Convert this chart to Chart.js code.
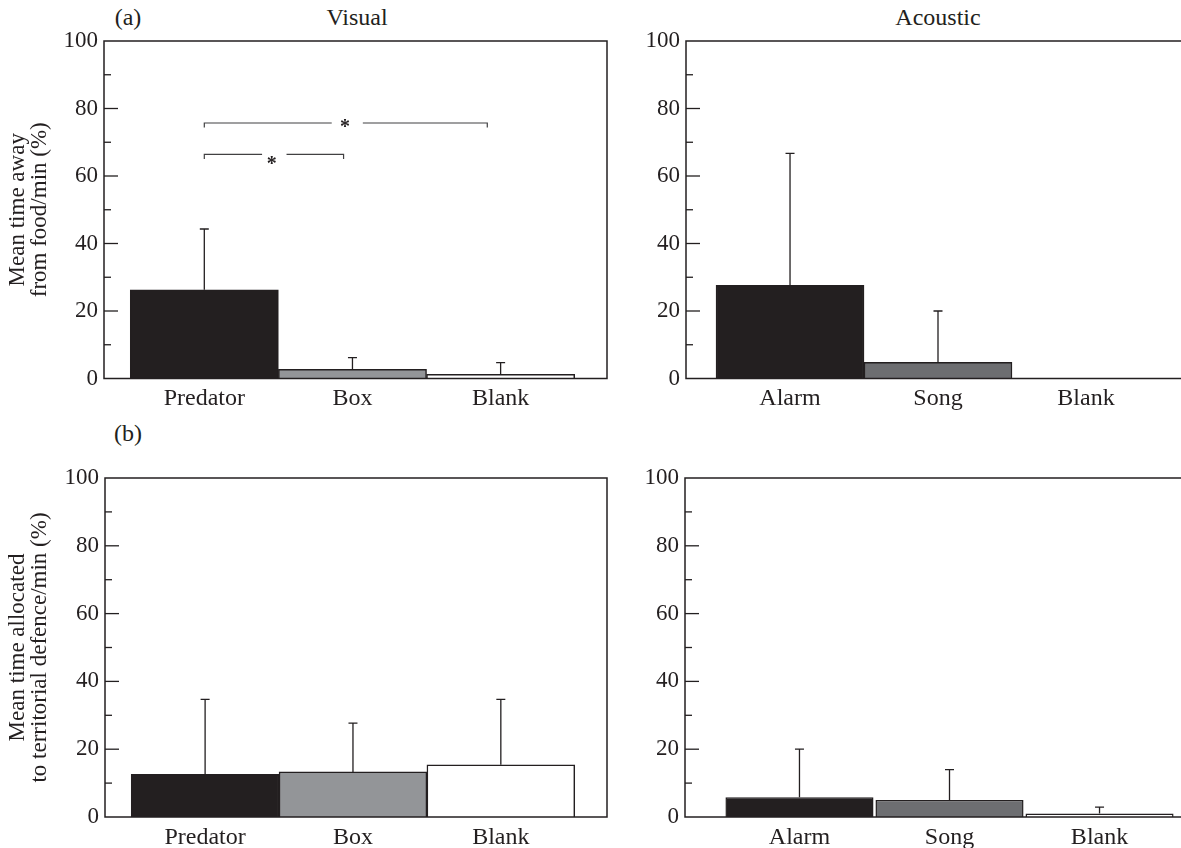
<!DOCTYPE html>
<html>
<head>
<meta charset="utf-8">
<script src="https://cdn.jsdelivr.net/npm/chart.js@4/dist/chart.umd.min.js"></script>
<style>
  html, body { margin: 0; padding: 0; background: #fff; overflow: hidden; width: 1181px; height: 848px; }
  .panel { position: absolute; }
  .lbl { position: absolute; font: 24px 'Liberation Serif', serif; color: #231f20;
         transform: translate(-50%, -50%); white-space: nowrap; }
</style>
</head>
<body>
<div class="lbl" style="left:128px;top:17px">(a)</div>
<div class="lbl" style="left:357px;top:17px">Visual</div>
<div class="lbl" style="left:938px;top:17px">Acoustic</div>
<div class="lbl" style="left:128px;top:433px">(b)</div>

<div class="panel" style="left:0;top:0;width:640px;height:420px"><canvas id="foodVisual"></canvas></div>
<div class="panel" style="left:600px;top:0;width:600px;height:420px"><canvas id="foodAcoustic"></canvas></div>
<div class="panel" style="left:0;top:430px;width:640px;height:430px"><canvas id="defVisual"></canvas></div>
<div class="panel" style="left:600px;top:430px;width:600px;height:430px"><canvas id="defAcoustic"></canvas></div>

<script>
// categories
const visualCats = ['Predator', 'Box', 'Blank'];
const acousticCats = ['Alarm', 'Song', 'Blank'];

// (a) time away from food, % per min
const foodVisualMeans = [26.3, 2.7, 1.2];
const foodVisualErr = [18.0, 3.5, 3.5];
const foodAcousticMeans = [27.6, 4.8, 0];
const foodAcousticErr = [39.1, 15.2, 0];

// (b) time allocated to territorial defence, % per min
const defVisualMeans = [12.6, 13.3, 15.4];
const defVisualErr = [22.1, 14.4, 19.3];
const defAcousticMeans = [5.8, 5.0, 1.0];
const defAcousticErr = [14.2, 9.0, 1.9];

const yTicks = [0, 20, 40, 60, 80, 100];

// significance brackets (panel a, visual), in data units
const sigBrackets = [
  { from: 0, to: 1.91, y: 75.7, gapFrom: 0.86, gapTo: 1.07, starX: 0.95, starY: 75.3 },
  { from: 0, to: 0.94, y: 66.4, gapFrom: 0.39, gapTo: 0.555, starX: 0.455, starY: 64.4 }
];

const ink = '#231f20';
const visualColors = [ink, '#939598', '#ffffff'];
const acousticColors = [ink, '#6d6e71', '#ffffff'];

Chart.defaults.font.family = "'Liberation Serif', serif";
Chart.defaults.color = ink;

const framePlugin = {
  id: 'frame',
  afterDatasetsDraw(chart) {
    const { ctx, chartArea: a } = chart;
    const y = chart.scales.y;
    ctx.save();
    ctx.strokeStyle = ink;
    ctx.lineWidth = 1.5;
    ctx.strokeRect(a.left, a.top, a.right - a.left, a.bottom - a.top);
    ctx.lineWidth = 1.3;
    for (let v = 10; v < 100; v += 10) {
      const py = y.getPixelForValue(v);
      const len = v % 20 === 0 ? 14 : 7;
      ctx.beginPath();
      ctx.moveTo(a.left, py);
      ctx.lineTo(a.left + len, py);
      ctx.stroke();
    }
    ctx.restore();
  }
};

const errPlugin = {
  id: 'errorBars',
  afterDatasetsDraw(chart, args, opts) {
    const { ctx } = chart;
    const y = chart.scales.y;
    const ds = chart.data.datasets[0];
    const bars = chart.getDatasetMeta(0).data;
    ctx.save();
    ctx.strokeStyle = ink;
    ctx.lineWidth = 1.3;
    bars.forEach((bar, i) => {
      const e = opts.errs[i];
      if (!e) return;
      const top = y.getPixelForValue(ds.data[i].y + e);
      ctx.beginPath();
      ctx.moveTo(bar.x, bar.y);
      ctx.lineTo(bar.x, top);
      ctx.moveTo(bar.x - 4.5, top);
      ctx.lineTo(bar.x + 4.5, top);
      ctx.stroke();
    });
    ctx.restore();
  }
};

const bracketPlugin = {
  id: 'sigBrackets',
  afterDatasetsDraw(chart, args, opts) {
    if (!opts.items) return;
    const { ctx } = chart;
    const { x, y } = chart.scales;
    ctx.save();
    ctx.strokeStyle = '#414042';
    ctx.lineWidth = 1.2;
    opts.items.forEach(b => {
      const py = y.getPixelForValue(b.y);
      const drop = 4.5;
      ctx.beginPath();
      ctx.moveTo(x.getPixelForValue(b.from), py + drop);
      ctx.lineTo(x.getPixelForValue(b.from), py);
      ctx.lineTo(x.getPixelForValue(b.gapFrom), py);
      ctx.moveTo(x.getPixelForValue(b.gapTo), py);
      ctx.lineTo(x.getPixelForValue(b.to), py);
      ctx.lineTo(x.getPixelForValue(b.to), py + drop);
      ctx.stroke();
      ctx.fillStyle = ink;
      ctx.font = "bold 20px 'Liberation Serif'";
      ctx.textAlign = 'center';
      ctx.textBaseline = 'alphabetic';
      ctx.fillText('*', x.getPixelForValue(b.starX), y.getPixelForValue(b.starY) + 9);
    });
    ctx.restore();
  }
};

function panel(id, cats, means, errs, colors, geo, titleLines, brackets) {
  return new Chart(document.getElementById(id), {
    type: 'bar',
    data: {
      datasets: [{
        data: means.map((m, i) => ({ x: i, y: m })),
        backgroundColor: colors,
        borderColor: ink,
        borderWidth: 1.5,
        borderSkipped: 'start',
        barPercentage: geo.barPct || 1,
        categoryPercentage: 1
      }]
    },
    options: {
      responsive: true,
      maintainAspectRatio: false,
      animation: false,
      layout: { padding: { top: geo.top, right: geo.right, left: 0, bottom: 0 } },
      plugins: {
        legend: { display: false },
        tooltip: { enabled: false },
        errorBars: { errs: errs },
        sigBrackets: { items: brackets }
      },
      scales: {
        x: {
          type: 'linear',
          offset: false,
          min: geo.xmin,
          max: geo.xmax,
          grid: { display: false, drawTicks: false, offset: false },
          border: { display: false },
          afterBuildTicks: s => { s.ticks = cats.map((c, i) => ({ value: i })); },
          afterFit: s => { s.height = geo.xh; },
          ticks: {
            callback: v => cats[v],
            font: { size: 24 },
            color: ink,
            padding: 6,
            maxRotation: 0,
            autoSkip: false
          }
        },
        y: {
          min: 0,
          max: 100,
          grid: { display: false, drawTicks: false },
          border: { display: false },
          afterBuildTicks: s => { s.ticks = yTicks.map(v => ({ value: v })); },
          afterFit: s => { s.width = geo.yw; },
          ticks: { font: { size: 23 }, color: ink, padding: 6 },
          title: {
            display: !!titleLines,
            text: titleLines || '',
            font: { size: 23, lineHeight: 0.95 },
            color: ink,
            padding: { top: 7, bottom: 0 }
          }
        }
      }
    },
    plugins: [framePlugin, errPlugin, bracketPlugin]
  });
}

panel('foodVisual', visualCats, foodVisualMeans, foodVisualErr, visualColors,
  { top: 41, right: 33, xh: 41.5, yw: 104, xmin: -0.677, xmax: 2.718 },
  ['Mean time away', 'from food/min (%)'], sigBrackets);

panel('foodAcoustic', acousticCats, foodAcousticMeans, foodAcousticErr, acousticColors,
  { top: 41, right: 10, xh: 41.5, yw: 86, xmin: -0.703, xmax: 2.703 },
  null, null);

panel('defVisual', visualCats, defVisualMeans, defVisualErr, visualColors,
  { top: 48, right: 33, xh: 43, yw: 105, xmin: -0.677, xmax: 2.718 },
  ['Mean time allocated', 'to territorial defence/min (%)'], null);

panel('defAcoustic', acousticCats, defAcousticMeans, defAcousticErr, acousticColors,
  { top: 48, right: 10, xh: 43, yw: 85, xmin: -0.763, xmax: 2.603, barPct: 0.987 },
  null, null);
</script>
</body>
</html>
